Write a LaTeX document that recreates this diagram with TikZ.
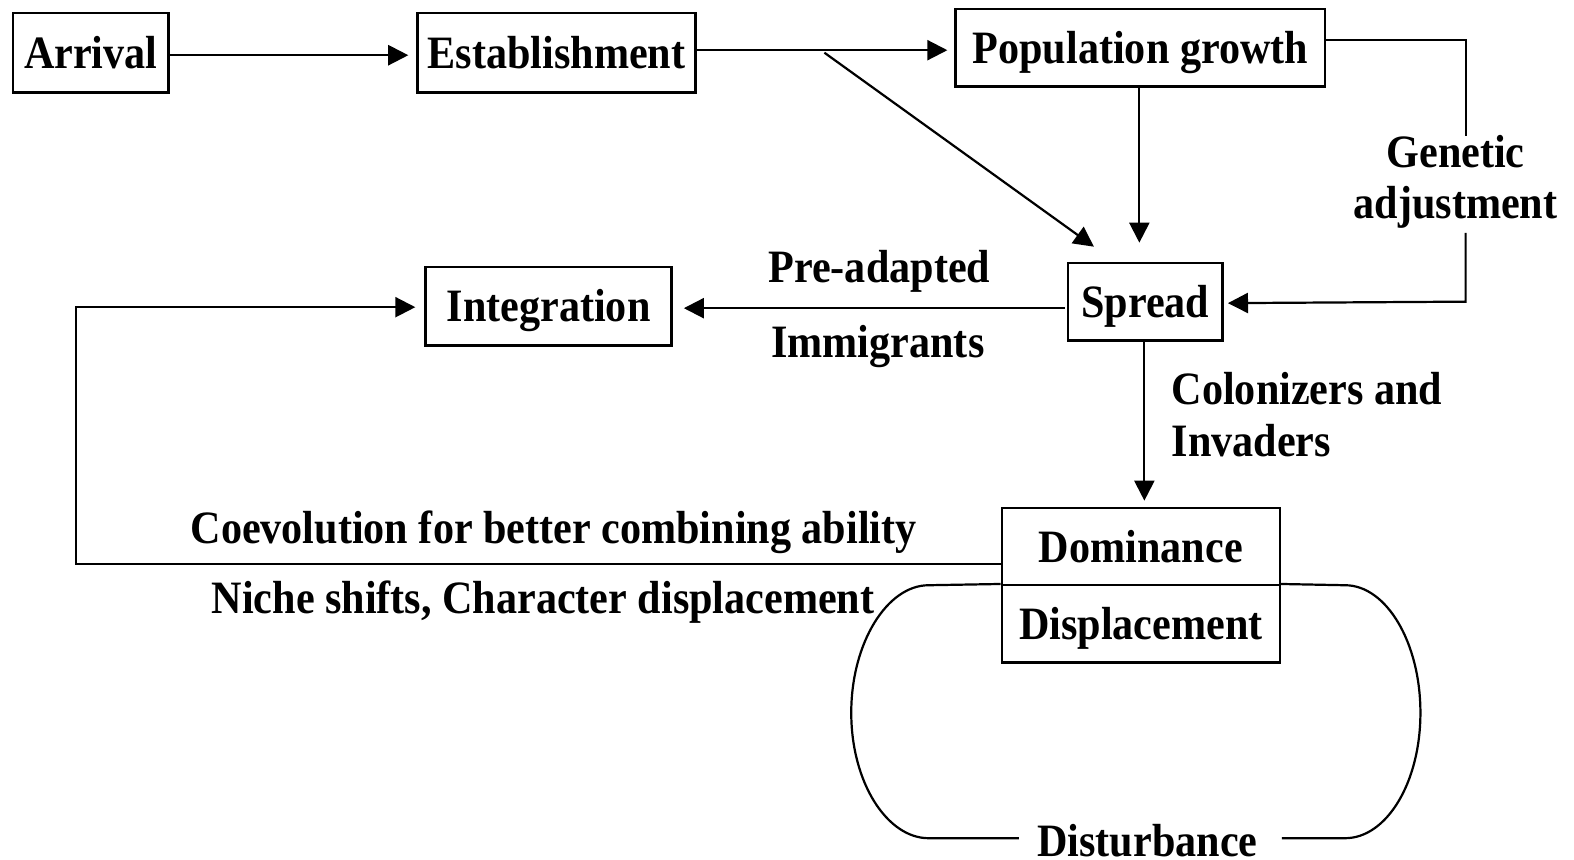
\documentclass[tikz,border=0pt]{standalone}
\usepackage{fontspec}
\setmainfont{Liberation Serif}
\usetikzlibrary{arrows.meta,calc}
\newcommand{\tx}[1]{\scalebox{1}[1.1]{#1}}
\begin{document}
\begin{tikzpicture}[x=1pt,y=-1pt,
  every node/.style={font=\bfseries\fontsize{42}{48}\selectfont, inner sep=0pt},
  stagebox/.style={draw, line width=2.5pt, align=center, text height=31pt, text depth=0pt},
  conn/.style={line width=2.2pt},
  arrowc/.style={conn, -{Triangle[length=20pt,width=20pt]}},
  lbl/.style={anchor=base}]
\useasboundingbox (0,0) rectangle (1568,856);
% boxes
\node[stagebox, minimum width=155pt, minimum height=79pt] (arr) at (90.5,52.5) {\tx{Arrival}};
\node[stagebox, minimum width=277pt, minimum height=79pt] (est) at (554.5,52.5) {\tx{Establishment}};
\node[stagebox, minimum width=368pt, minimum height=77pt] (pop) at (1136,47.5) {\tx{Population growth}};
\node[stagebox, minimum width=154pt, minimum height=77pt] (spr) at (1141,300.5) {\tx{Spread}};
\node[stagebox, minimum width=245pt, minimum height=78pt] (int) at (546.5,305) {\tx{Integration}};
\node[stagebox, minimum width=277pt, minimum height=77pt] (dom) at (1136.5,544.5) {\tx{Dominance}};
\node[stagebox, minimum width=277pt, minimum height=77pt] (dis) at (1136.5,621.5) {\tx{Displacement}};
% labels
\node[lbl] (pre) at (876,281) {\tx{Pre-adapted}};
\node[lbl] (imm) at (874.5,356) {\tx{Immigrants}};
\node[lbl] (gen) at (1450,167) {\tx{Genetic}};
\node[lbl] (adj) at (1450,218) {\tx{adjustment}};
\node[lbl, anchor=base west] (col) at (1167,403) {\tx{Colonizers and}};
\node[lbl, anchor=base west] (inv) at (1167,455) {\tx{Invaders}};
\node[lbl] (coe) at (551.5,541) {\tx{Coevolution for better combining ability}};
\node[lbl] (nic) at (541,611) {\tx{Niche shifts, Character displacement}};
\node[lbl] (dst) at (1143,853) {\tx{Disturbance}};
% connectors
\draw[arrowc, shorten >=8pt] ($(arr.east)+(0,2.5)$) -- ($(est.west)+(0,2.5)$);
\draw[arrowc, shorten >=7pt] ($(est.east)+(0,-2.5)$) -- ($(pop.west)+(0,2.5)$);
\coordinate (d1) at ($(est.east)+(127,0)$);
\coordinate (d2) at ($(spr.north west)+(27,-15)$);
\draw[arrowc] (d1) -- (d2);
\draw[arrowc, shorten >=19pt] ($(pop.south)+(-1,0)$) -- ($(pop.south |- spr.north)+(-1,0)$);
\coordinate (g1) at (1460,40);
\coordinate (g2) at (1460,135);
\coordinate (g3) at (1460,232);
\draw[conn] ($(pop.east)+(0,-7.5)$) -- (g1) -- (g2);
\draw[arrowc, shorten >=4pt] (g3) -- (g3 |- spr.east) -- ($(spr.east)+(0,1.5)$);
\draw[arrowc, shorten >=11pt] ($(spr.west)+(-2,6.5)$) -- ($(int.east)+(0,2)$);
\draw[arrowc, shorten >=6pt] ($(spr.south)+(-1,0)$) -- ($(spr.south |- dom.north)+(-1,0)$);
\coordinate (c1) at (76,562);
\coordinate (c2) at (76,306);
\draw[arrowc, shorten >=9pt] (dom.west |- c1) -- (c1) -- (c2) -- ($(int.west)+(0,1)$);
% disturbance loop
\coordinate (lt) at (925,583);
\coordinate (lb) at (925,835);
\coordinate (rt) at (1340,583);
\coordinate (rb) at (1340,835);
\draw[conn] (dis.north west) -- (lt) .. controls (884,583) and (848,640) .. (848,710)
  .. controls (848,780) and (884,835) .. (lb) -- (1015,835);
\draw[conn] (dis.north east) -- (rt) .. controls (1381,583) and (1415,640) .. (1415,710)
  .. controls (1415,780) and (1381,835) .. (rb) -- (1277,835);
\end{tikzpicture}
\end{document}
